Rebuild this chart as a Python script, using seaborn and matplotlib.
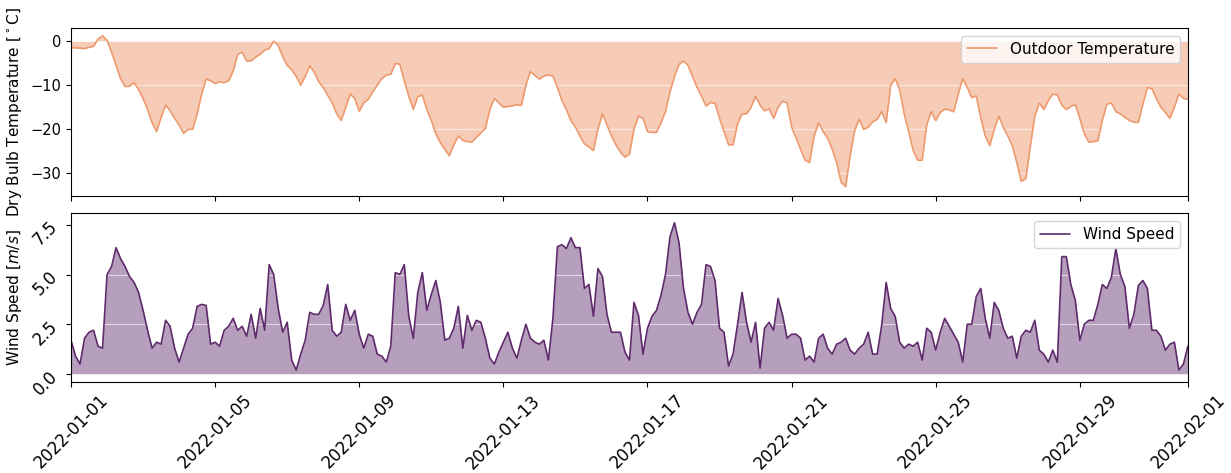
import matplotlib
matplotlib.use("Agg")
import matplotlib.pyplot as plt
import matplotlib.dates as mdates
import pandas as pd
import seaborn as sns

# 3-hourly readings, January 2022 (last point = 2022-02-01 00:00)
temperature = [
    -1.5, -1.5, -1.6, -1.7, -1.4, -1.2, 0.5, 1.2,
    0.2, -2.5, -5.5, -8.5, -10.3, -10.2, -9.4, -11.0,
    -13.0, -15.5, -18.5, -20.5, -17.3, -14.5, -15.8, -17.5,
    -19.0, -20.9, -20.0, -20.0, -16.5, -12.0, -8.6, -9.0,
    -9.6, -9.2, -9.4, -9.0, -6.8, -3.0, -2.5, -4.5,
    -4.5, -3.6, -3.0, -2.0, -1.7, 0.0, -1.0, -3.5,
    -5.5, -6.5, -8.0, -10.0, -8.0, -5.6, -7.0, -9.2,
    -10.5, -12.3, -14.0, -16.5, -18.0, -15.0, -12.0, -13.0,
    -15.9, -14.0, -13.2, -11.5, -10.0, -8.5, -7.7, -7.5,
    -5.1, -5.2, -9.0, -12.5, -15.5, -12.6, -12.2, -15.5,
    -18.0, -21.0, -23.0, -24.5, -26.0, -23.5, -21.5, -22.5,
    -22.8, -22.9, -21.8, -20.8, -19.8, -15.5, -13.0, -14.0,
    -15.0, -14.8, -14.7, -14.4, -14.6, -10.0, -6.9, -7.8,
    -8.6, -7.9, -7.7, -7.9, -10.5, -13.5, -15.5, -18.0,
    -19.5, -21.5, -23.3, -24.0, -24.8, -20.0, -16.5, -19.0,
    -21.5, -23.5, -25.2, -26.3, -25.6, -20.0, -17.0, -17.5,
    -20.5, -20.7, -20.7, -18.5, -16.0, -11.5, -8.0, -5.3,
    -4.5, -5.5, -8.0, -10.5, -12.5, -14.7, -13.9, -14.1,
    -17.5, -20.5, -23.5, -23.5, -18.8, -16.5, -16.5, -15.0,
    -12.5, -14.5, -15.8, -15.3, -17.5, -15.0, -13.6, -14.0,
    -19.5, -22.0, -24.5, -27.0, -27.5, -21.5, -18.5, -20.5,
    -22.0, -24.5, -27.5, -32.0, -33.0, -26.0, -20.3, -17.7,
    -20.0, -19.5, -18.3, -17.7, -16.0, -18.5, -10.0, -8.5,
    -11.0, -16.5, -20.5, -24.8, -27.0, -27.0, -19.0, -16.0,
    -18.0, -16.2, -15.4, -15.6, -16.0, -12.0, -8.5, -10.5,
    -12.8, -12.4, -17.3, -21.5, -23.7, -20.0, -17.0, -19.5,
    -21.5, -23.7, -27.5, -31.8, -31.2, -24.0, -17.0, -14.0,
    -15.5, -13.5, -12.0, -12.2, -14.5, -15.5, -14.8, -14.4,
    -17.5, -21.0, -22.9, -22.8, -22.6, -18.0, -14.3, -14.0,
    -16.0, -16.5, -17.3, -18.0, -18.4, -18.4, -14.3, -10.5,
    -10.8, -13.0, -15.0, -16.2, -17.5, -15.0, -12.0, -13.0,
    -13.2,
]

wind_speed = [
    1.7, 0.9, 0.5, 1.8, 2.1, 2.2, 1.4, 1.3,
    5.0, 5.4, 6.35, 5.8, 5.4, 4.9, 4.6, 4.1,
    3.2, 2.2, 1.3, 1.6, 1.5, 2.7, 2.4, 1.3,
    0.6, 1.3, 2.0, 2.3, 3.4, 3.5, 3.45, 1.5,
    1.6, 1.4, 2.2, 2.4, 2.8, 2.2, 2.4, 1.9,
    3.0, 1.8, 3.3, 2.2, 5.5, 5.0, 3.3, 2.1,
    2.6, 0.7, 0.2, 1.0, 1.7, 3.1, 3.0, 3.0,
    3.45, 4.5, 2.2, 1.9, 2.1, 3.5, 2.7, 3.2,
    2.0, 1.3, 2.0, 1.9, 1.0, 0.9, 0.6, 1.4,
    5.1, 5.0, 5.5, 2.9, 1.8, 4.1, 5.1, 3.2,
    4.0, 4.7, 3.6, 1.7, 1.8, 2.3, 3.4, 1.3,
    2.95, 2.2, 2.7, 2.6, 1.8, 0.8, 0.5, 1.1,
    1.6, 2.1, 1.3, 0.8, 1.7, 2.5, 1.8, 1.6,
    1.5, 1.7, 0.7, 2.8, 6.4, 6.5, 6.3, 6.85,
    6.35, 6.35, 4.3, 4.5, 2.9, 5.3, 4.9, 3.0,
    2.1, 2.1, 2.1, 1.1, 0.7, 3.6, 2.95, 1.0,
    2.3, 2.9, 3.2, 3.95, 5.0, 6.9, 7.6, 6.6,
    4.3, 3.1, 2.5, 3.1, 3.5, 5.5, 5.4, 4.7,
    2.3, 2.1, 0.4, 1.0, 2.5, 4.1, 2.6, 1.6,
    2.6, 0.3, 2.3, 2.6, 2.2, 3.8, 2.95, 1.8,
    2.0, 2.0, 1.8, 0.7, 0.9, 0.6, 1.8, 2.0,
    1.3, 1.0, 1.5, 1.6, 1.8, 1.2, 1.0, 1.3,
    1.5, 2.1, 1.0, 1.0, 2.45, 4.6, 3.3, 2.9,
    1.6, 1.3, 1.5, 1.4, 1.6, 0.7, 2.3, 2.1,
    1.2, 2.1, 2.8, 2.4, 2.0, 1.6, 0.6, 2.5,
    2.5, 3.9, 4.3, 2.8, 1.8, 3.6, 3.2, 2.3,
    1.8, 1.9, 0.8, 1.9, 2.2, 2.1, 2.7, 1.2,
    1.0, 0.6, 1.2, 0.6, 5.9, 5.9, 4.5, 3.7,
    1.7, 2.5, 2.7, 2.7, 3.5, 4.5, 4.3, 4.85,
    6.3, 5.0, 4.4, 2.3, 3.0, 4.45, 4.7, 4.3,
    2.2, 2.2, 1.9, 1.2, 1.5, 1.6, 0.2, 0.5,
    1.4,
]

times = pd.date_range("2022-01-01", periods=len(temperature), freq="3h")
df = pd.DataFrame({"time": times, "temp": temperature, "wind": wind_speed})

temp_color = "#ee9a6f"
wind_color = "#5e2a6c"

sns.set_style("ticks", {"axes.grid": True, "grid.color": "white",
                        "axes.edgecolor": "black", "text.color": "black",
                        "axes.labelcolor": "black", "xtick.color": "black",
                        "ytick.color": "black"})
plt.rcParams["font.family"] = ["DejaVu Sans"]

fig, (ax1, ax2) = plt.subplots(2, 1, sharex=True, figsize=(12.31, 4.73), dpi=100)
fig.subplots_adjust(left=0.0577, right=0.965, top=0.941, bottom=0.193, hspace=0.1)

# Outdoor temperature
sns.lineplot(data=df, x="time", y="temp", color=temp_color, lw=1.2,
             label="Outdoor Temperature", ax=ax1)
ax1.fill_between(df["time"], df["temp"], color=temp_color, alpha=0.5, lw=0, zorder=0.3)
ax1.set_ylim(-35.2, 3.0)
ax1.set_ylabel("Dry Bulb Temperature [$^\\circ$C]", fontsize=11)
ax1.set_xlabel("")
ax1.legend(loc="upper right", fontsize=11)
ax1.tick_params(labelsize=10.5)

# Wind speed
sns.lineplot(data=df, x="time", y="wind", color=wind_color, lw=1.2,
             label="Wind Speed", ax=ax2)
ax2.fill_between(df["time"], df["wind"], color=wind_color, alpha=0.45, lw=0, zorder=0.3)
ax2.set_ylim(-0.385, 8.08)
ax2.set_yticks([0.0, 2.5, 5.0, 7.5])
ax2.set_ylabel("Wind Speed [$m/s$]", fontsize=11)
ax2.set_xlabel("")
ax2.legend(loc="upper right", fontsize=11)

ax2.set_xlim(pd.Timestamp("2022-01-01"), pd.Timestamp("2022-02-01"))
ax2.xaxis.set_major_locator(mdates.DayLocator(bymonthday=[1, 5, 9, 13, 17, 21, 25, 29]))
ax2.xaxis.set_major_formatter(mdates.DateFormatter("%Y-%m-%d"))
plt.setp(ax2.get_xticklabels(), rotation=45, fontsize=12)
plt.setp(ax2.get_yticklabels(), rotation=45, fontsize=12)

for ax in (ax1, ax2):
    ax.grid(True, color="white", lw=0.8, alpha=0.6)
    ax.grid(False, axis="x")
    for s in ax.spines.values():
        s.set_visible(True)
        s.set_linewidth(0.8)

fig.align_ylabels([ax1, ax2])
fig.savefig("out.png", dpi=100)
